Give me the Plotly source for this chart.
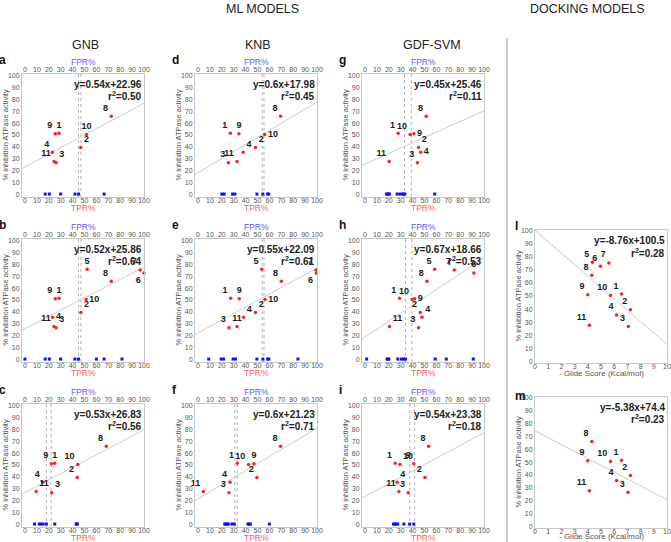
import plotly.graph_objects as go

W, H = 671, 542

compounds = ["1", "2", "3", "4", "5", "6", "7", "8", "9", "10", "11"]
activity = [51.5, 39.5, 26.5, 35.5, 76.0, 73.0, 75.5, 66.0, 51.0, 50.5, 27.5]

# TPR% of each compound per ML panel (None = compound not in that set)
tpr_a = [28.6, 46.9, 26.1, 23.0, None, None, None, 72.5, 25.5, 51.7, 24.4]
tpr_b = [28.6, 47.0, 26.1, 23.3, 52.2, 100.0, 96.7, 72.5, 25.5, 51.4, 24.4]
tpr_c = [25.0, 43.9, 22.5, 15.0, None, None, None, 68.3, 22.2, 44.4, 9.4]
tpr_d = [27.2, 48.3, 25.6, 38.0, None, None, None, 69.4, 34.4, 56.1, 32.8]
tpr_e = [27.5, 48.3, 26.1, 38.3, 53.6, 99.4, 99.2, 70.0, 34.7, 56.4, 32.8]
tpr_f = [33.0, 49.5, 26.0, 27.0, None, None, None, 69.4, 47.0, 42.5, 4.5]
tpr_g = [27.9, 45.0, 44.0, 46.8, None, None, None, 51.5, 41.1, 38.0, 20.3]
tpr_h = [29.0, 46.5, 45.0, 47.9, 58.6, 91.5, 75.0, 52.1, 41.7, 39.7, 20.6]
tpr_i = [25.4, 50.4, 36.3, 27.0, None, None, None, 53.5, 41.1, 29.3, 28.5]

# FPR% of decoys (plotted at 0 % inhibition)
fpr_a = [17, 20.5, 30, 42, 45, 66.5]
fpr_b = [0, 17, 20.5, 30, 42, 45, 60, 66.5, 81.5]
fpr_c = [8, 12, 13.3, 15.3, 18, 25, 43, 43.5, 44]
fpr_d = [20, 22, 29, 31, 49.5, 54.5, 58.5, 59.5]
fpr_e = [9, 19.5, 21.5, 29.5, 31.5, 49.5, 54.5, 58.5, 59.5, 84]
fpr_f = [22.5, 23.5, 24.5, 25.5, 28.5, 30.5, 42, 43, 44, 60]
fpr_g = [18, 19, 20, 20.5, 27, 29.3, 31.5, 32.5, 33.5, 58.6]
fpr_h = [1.4, 18.5, 19.5, 20, 27.6, 30.7, 32.7, 34, 59, 68.3, 91]
fpr_i = [24, 25, 26, 27.5, 32.7, 37.5, 41]

# dotted threshold lines (%)
thr_a = [45, 47]
thr_b = [45, 47]
thr_c = [18, 22]
thr_d = [54, 55.5]
thr_e = [54, 55.5]
thr_f = [31, 33]
thr_g = [33.2, 38.9]
thr_h = [34, 39.4]
thr_i = [37.7, 41.7]

# docking: - Glide score (Kcal/mol)
glide_l = [6.56, 7.23, 7.07, 6.18, 4.35, 4.96, 5.6, 4.3, 4.0, 5.72, 4.12]
glide_m = [6.56, 7.23, 7.05, 6.18, None, None, None, 4.3, 4.0, 5.72, 4.12]

# regression fits (order a..i, l, m)
slopes = [0.54, 0.52, 0.53, 0.6, 0.55, 0.6, 0.45, 0.67, 0.54, -8.76, -5.38]
intercepts = [22.96, 25.86, 26.83, 17.98, 22.09, 21.23, 25.46, 18.66, 23.38, 100.5, 74.4]
r2_labels = ["0.50", "0.64", "0.56", "0.45", "0.61", "0.71", "0.11", "0.53", "0.18", "0.28", "0.23"]

row_titles = ["GNB", "KNB", "GDF-SVM"]

# ---- label placement styles ----
TL, TC, TR, MR, BL = "top left", "top center", "top right", "middle right", "bottom left"
pos_a = [TC, TR, TR, TL, TC, TC, TC, TL, TL, TC, TL]
pos_b = [TC, TR, TR, MR, TC, BL, TL, TL, TL, MR, TL]
pos_c = [TC, TL, TR, TL, TC, TC, TC, TL, TL, TL, TR]
pos_d = [TL, TR, TL, TR, TC, TC, TC, TL, TC, MR, TL]
pos_e = [TL, TR, TL, TR, TL, BL, TL, TL, TC, MR, TC]
pos_f = [TL, TL, TL, TL, TC, TC, TC, TL, TC, TL, TL]
pos_g = [TL, TR, TL, MR, TC, TC, TC, TL, MR, TL, TL]
pos_h = [TL, TL, TL, TR, TL, TC, TL, TL, MR, TL, TR]
pos_i = [TL, TL, TL, TR, TC, TC, TC, TL, TL, TR, TL]
pos_l = [TL] * 11
pos_m = [TL] * 11

FONT = "Liberation Sans, Arial, sans-serif"
GRID = "#c8c8c8"
TICKC = "#555555"

# negative tick-label standoff pulls the labels closer to the frame, if supported
try:
    go.layout.XAxis(ticklabelstandoff=-3)
    STANDOFF = {"ticklabelstandoff": -3}
except Exception:
    STANDOFF = {}

fig = go.Figure()
layout = {}
annotations = []
shapes = []

ml_panels = [
    ("a", tpr_a, fpr_a, thr_a, pos_a, 0, 0),
    ("b", tpr_b, fpr_b, thr_b, pos_b, 0, 1),
    ("c", tpr_c, fpr_c, thr_c, pos_c, 0, 2),
    ("d", tpr_d, fpr_d, thr_d, pos_d, 1, 0),
    ("e", tpr_e, fpr_e, thr_e, pos_e, 1, 1),
    ("f", tpr_f, fpr_f, thr_f, pos_f, 1, 2),
    ("g", tpr_g, fpr_g, thr_g, pos_g, 2, 0),
    ("h", tpr_h, fpr_h, thr_h, pos_h, 2, 1),
    ("i", tpr_i, fpr_i, thr_i, pos_i, 2, 2),
]

col_left = [22, 195, 362]
row_top = [74, 239, 404]
BW, BH = 122, 123
XR = [-2.5, 100]
YR = [-2.5, 101.7]

def px_dom_x(l, r):
    return [l / W, r / W]

def px_dom_y(t, b):
    return [1 - b / H, 1 - t / H]

def names(n):
    s = "" if n == 1 else str(n)
    return "x" + s, "y" + s, "xaxis" + s, "yaxis" + s

TICKFONT = dict(size=7, color=TICKC, family=FONT)

def common_axis(rng, dtick):
    return dict(range=rng, showgrid=False, zeroline=False, tickmode="linear", tick0=0, dtick=dtick,
                ticks="", tickfont=TICKFONT, tickangle=0, automargin=False)

def yaxis_cfg(dom, rng, anchor):
    d = common_axis(rng, 10)
    d.update(domain=dom, anchor=anchor, showline=True, mirror=True, linecolor=GRID, linewidth=1)
    return d

def paper_text(text, x, y, size, color, angle=0, bold=False, xanchor="center"):
    t = f"<b>{text}</b>" if bold else text
    annotations.append(dict(text=t, xref="paper", yref="paper", x=x / W, y=1 - y / H,
                            xanchor=xanchor, yanchor="middle", showarrow=False, textangle=angle,
                            borderpad=0, font=dict(size=size, color=color, family=FONT)))

def points_trace(xs, pos, xa, ya):
    px_, py_, tx_, tp_ = [], [], [], []
    for k in range(len(compounds)):
        if xs[k] is None:
            continue
        px_.append(xs[k]); py_.append(activity[k])
        tx_.append(f"<b>{compounds[k]}</b>"); tp_.append(pos[k])
    return go.Scatter(x=px_, y=py_, text=tx_, textposition=tp_, mode="markers+text",
                      marker=dict(color="#ff2020", size=3.5),
                      textfont=dict(size=9, color="#1a1a1a", family=FONT),
                      xaxis=xa, yaxis=ya, showlegend=False, cliponaxis=False)

def eq_annots(idx, xa_name, ya_name):
    s = slopes[idx]; b = intercepts[idx]
    sign = "+" if b >= 0 else "-"
    eq = f"y={s:g}x{sign}{abs(b):g}"
    annotations.append(dict(text=f"<b>{eq}</b>", xref=f"{xa_name} domain", yref=f"{ya_name} domain",
                            x=1.0, y=0.975, xanchor="right", yanchor="top", showarrow=False,
                            font=dict(size=10, color="#222222", family=FONT)))
    annotations.append(dict(text=f"<b>r<sup>2</sup>=" + r2_labels[idx] + "</b>",
                            xref=f"{xa_name} domain", yref=f"{ya_name} domain",
                            x=1.0, y=0.89, xanchor="right", yanchor="top", showarrow=False,
                            font=dict(size=10, color="#222222", family=FONT)))

ax = 0
for idx, (letter, tpr, fpr, thr, pos, c, r) in enumerate(ml_panels):
    xb, yy, xbk, yyk = names(ax + 1)
    xt, _, xtk, _ = names(ax + 2)
    ax += 2
    L = col_left[c]; T = row_top[r]
    xd = px_dom_x(L, L + BW); yd = px_dom_y(T, T + BH)
    bx = common_axis(XR, 10)
    bx.update(domain=xd, anchor=yy, showline=True, mirror=True, linecolor=GRID, linewidth=1, **STANDOFF)
    layout[xbk] = bx
    tx = common_axis(XR, 10)
    tx.update(domain=xd, anchor=yy, overlaying=xb, side="top", showline=False)
    layout[xtk] = tx
    layout[yyk] = yaxis_cfg(yd, YR, xb)

    for t in thr:
        fig.add_trace(go.Scatter(x=[t, t], y=YR, mode="lines", line=dict(color="#b4b4b4", width=1, dash="dot"),
                                 xaxis=xb, yaxis=yy, showlegend=False, hoverinfo="skip"))
    fig.add_trace(go.Scatter(x=XR, y=[slopes[idx] * v + intercepts[idx] for v in XR], mode="lines",
                             line=dict(color="#cccccc", width=1), xaxis=xb, yaxis=yy,
                             showlegend=False, hoverinfo="skip"))
    fig.add_trace(go.Scatter(x=fpr, y=[0] * len(fpr), mode="markers",
                             marker=dict(color="#1010ff", size=3, symbol="square"),
                             xaxis=xt, yaxis=yy, showlegend=False, cliponaxis=False))
    fig.add_trace(points_trace(tpr, pos, xb, yy))
    eq_annots(idx, xb, yy)
    cx = L + BW / 2
    paper_text("FPR%", cx, T - 12, 8.5, "#5a5aff")
    paper_text("TPR%", cx, T + BH + 11, 8.5, "#ff5a5a")
    paper_text("% inhibition ATPase activity", L - 17, T + BH / 2, 7.5, TICKC, angle=-90)
    paper_text(letter, L - 24, T - 14, 12, "#111111", bold=True, xanchor="left")

dock = [("l", glide_l, pos_l, 230, 133, 9, 226, 10), ("m", glide_m, pos_m, 397, 131, 10, 396, 8.5)]
DXR = [0, 10]
DYR = [-1.5, 100.8]
DL, DR = 535, 667
for letter, gl, pos, T, DH, idx, ly, toff in dock:
    xa, ya, xak, yak = names(ax + 1)
    ax += 1
    xd = px_dom_x(DL, DR); yd = px_dom_y(T, T + DH)
    dx = common_axis(DXR, 1)
    dx.update(domain=xd, anchor=ya, showline=True, mirror=True, linecolor=GRID, linewidth=1, **STANDOFF)
    layout[xak] = dx
    layout[yak] = yaxis_cfg(yd, DYR, xa)
    fig.add_trace(go.Scatter(x=DXR, y=[slopes[idx] * v + intercepts[idx] for v in DXR], mode="lines",
                             line=dict(color="#cccccc", width=1), xaxis=xa, yaxis=ya,
                             showlegend=False, hoverinfo="skip"))
    fig.add_trace(points_trace(gl, pos, xa, ya))
    eq_annots(idx, xa, ya)
    paper_text("- Glide Score (Kcal/mol)", (DL + DR) / 2, T + DH + toff, 8, TICKC)
    paper_text("% inhibition ATPase activity", DL - 17, T + DH / 2, 7.5, TICKC, angle=-90)
    paper_text(letter, DL - 21, ly, 12, "#111111", bold=True, xanchor="left")

paper_text("ML MODELS", 262, 9, 12.5, "#222222")
paper_text("DOCKING MODELS", 587, 9, 12.5, "#222222")
for txt, x in zip(row_titles, [85, 258, 432]):
    paper_text(txt, x, 45, 12.5, "#222222")

shapes.append(dict(type="line", xref="paper", yref="paper", x0=507 / W, x1=507 / W,
                   y0=0, y1=1 - 38 / H, line=dict(color="#999999", width=1)))

fig.update_layout(width=W, height=H, margin=dict(l=0, r=0, t=0, b=0),
                  paper_bgcolor="white", plot_bgcolor="white",
                  font=dict(family=FONT), annotations=annotations, shapes=shapes, **layout)

fig.write_html("out.html", config={"displayModeBar": False},
               post_script="document.body.style.margin='0px';")
